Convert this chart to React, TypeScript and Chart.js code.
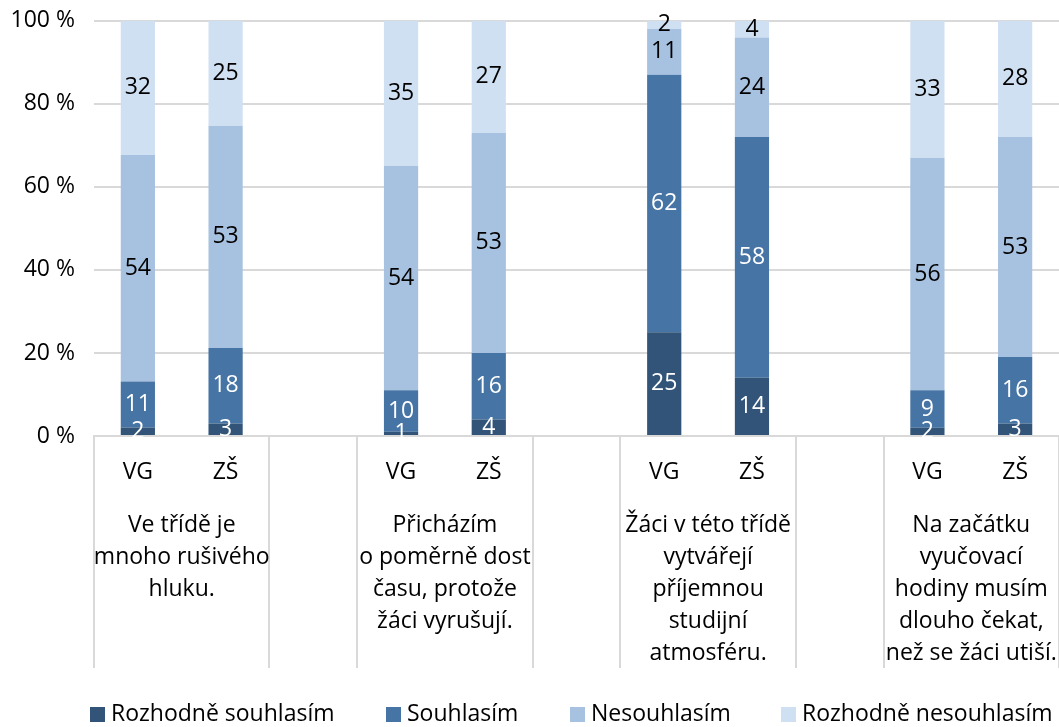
import React, { useEffect, useRef } from "react";
import { Chart, registerables } from "chart.js";

Chart.register(...registerables);

const categories = ["VG", "ZŠ", "", "VG", "ZŠ", "", "VG", "ZŠ", "", "VG", "ZŠ"];
const groupLabels = [
  ["Ve třídě je", "mnoho rušivého", "hluku."],
  ["Přicházím", "o poměrně dost", "času, protože", "žáci vyrušují."],
  ["Žáci v této třídě", "vytvářejí", "příjemnou", "studijní", "atmosféru."],
  ["Na začátku", "vyučovací", "hodiny musím", "dlouho čekat,", "než se žáci utiší."],
];
const seriesNames = ["Rozhodně souhlasím", "Souhlasím", "Nesouhlasím", "Rozhodně nesouhlasím"];
const rozhodneSouhlasim = [2, 3, null, 1, 4, null, 25, 14, null, 2, 3];
const souhlasim = [11, 18, null, 10, 16, null, 62, 58, null, 9, 16];
const nesouhlasim = [54, 53, null, 54, 53, null, 11, 24, null, 56, 53];
const rozhodneNesouhlasim = [32, 25, null, 35, 27, null, 2, 4, null, 33, 28];
const seriesColors = ["#325479", "#4674A5", "#A7C1E0", "#D0E0F3"];
const labelColors = ["#FFFFFF", "#FFFFFF", "#000000", "#000000"];

const FONT = "'Open Sans', Lato, sans-serif";
const FS = 23;
const GRID = "#D9D9D9";
const SHIFT = 12;

const rawSeries = [rozhodneSouhlasim, souhlasim, nesouhlasim, rozhodneNesouhlasim];
const totals = categories.map((_, i) =>
  rawSeries.reduce((s, arr) => s + (arr[i] ?? 0), 0)
);
const percentSeries = rawSeries.map((arr) =>
  arr.map((v, i) => (v == null ? null : (v / totals[i]) * 100))
);

const decorPlugin = {
  id: "decor",
  afterDatasetsDraw(chart: any) {
    const ctx = chart.ctx;
    ctx.save();
    ctx.font = `${FS}px ${FONT}`;
    ctx.textAlign = "center";
    ctx.textBaseline = "middle";
    chart.data.datasets.forEach((ds: any, di: number) => {
      const meta = chart.getDatasetMeta(di);
      meta.data.forEach((el: any, i: number) => {
        const v = rawSeries[di][i];
        if (v == null) return;
        const cy = (el.y + el.base) / 2;
        ctx.fillStyle = labelColors[di];
        ctx.fillText(String(v), el.x, cy);
      });
    });
    ctx.restore();
  },
  afterDraw(chart: any) {
    const ctx = chart.ctx;
    const xs = chart.scales.x;
    const area = chart.chartArea;
    const w = (xs.right - xs.left) / categories.length;
    ctx.save();
    // separators
    ctx.strokeStyle = GRID;
    ctx.lineWidth = 2;
    [0, 2, 3, 5, 6, 8, 9, 11].forEach((k) => {
      const x = Math.round(xs.left + k * w);
      ctx.beginPath();
      ctx.moveTo(x, area.bottom);
      ctx.lineTo(x, area.bottom + 232);
      ctx.stroke();
    });
    // group labels
    ctx.font = `${FS}px ${FONT}`;
    ctx.fillStyle = "#000";
    ctx.textAlign = "center";
    ctx.textBaseline = "middle";
    groupLabels.forEach((lines, g) => {
      const cx = xs.left + (3 * g + 1) * w;
      lines.forEach((t, li) => {
        ctx.fillText(t, cx, area.bottom + 89 + li * 32);
      });
    });
    // legend
    const legendX = [90, 386, 570, 781];
    const ly = 714.5 + SHIFT;
    ctx.textAlign = "left";
    seriesNames.forEach((name, i) => {
      ctx.fillStyle = seriesColors[i];
      ctx.fillRect(legendX[i], ly - 7.5, 15, 15);
      ctx.fillStyle = "#000";
      ctx.fillText(name, legendX[i] + 21, ly);
    });
    ctx.restore();
  },
};

export default function App() {
  const ref = useRef<HTMLCanvasElement>(null);
  useEffect(() => {
    document.body.style.margin = "0";
    document.body.style.overflow = "hidden";
    const chart = new Chart(ref.current!, {
      type: "bar",
      data: {
        labels: categories,
        datasets: percentSeries.map((d, i) => ({
          label: seriesNames[i],
          data: d,
          backgroundColor: seriesColors[i],
          borderWidth: 0,
          categoryPercentage: 1,
          barPercentage: 0.39,
        })),
      },
      options: {
        animation: false,
        responsive: true,
        maintainAspectRatio: false,
        layout: { padding: { top: 6, left: 0, right: 0, bottom: 0 } },
        plugins: {
          legend: { display: false },
          tooltip: { enabled: false },
        },
        scales: {
          x: {
            stacked: true,
            grid: { display: false, drawTicks: false },
            border: { display: true, color: GRID, width: 2 },
            ticks: {
              color: "#000",
              font: { family: FONT, size: FS },
              padding: 23,
              maxRotation: 0,
              autoSkip: false,
            },
            afterFit: (s: any) => {
              s.height = 291;
            },
          },
          y: {
            stacked: true,
            min: 0,
            max: 100,
            grid: { color: GRID, lineWidth: 2, drawTicks: false },
            border: { display: false },
            ticks: {
              stepSize: 20,
              color: "#000",
              font: { family: FONT, size: FS },
              padding: 19,
              callback: (v: any) => `${v} %`,
            },
            afterFit: (s: any) => {
              s.width = 94;
            },
          },
        },
      },
      plugins: [decorPlugin],
    });
    return () => chart.destroy();
  }, []);
  return (
    <div style={{ position: "absolute", left: 0, top: -SHIFT, width: 1059, height: 727 + SHIFT }}>
      <canvas ref={ref} />
    </div>
  );
}
